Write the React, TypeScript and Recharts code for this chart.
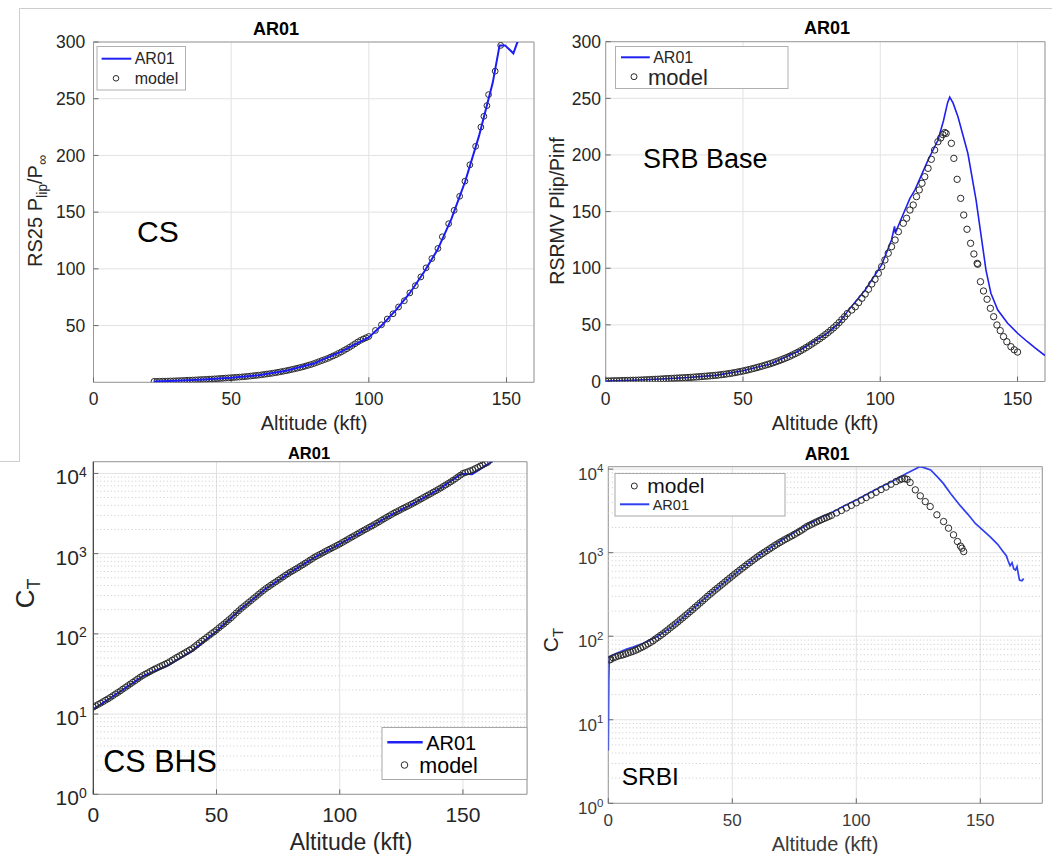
import {
  CartesianGrid,
  ReferenceArea,
  ReferenceLine,
  Scatter,
  ScatterChart,
  XAxis,
  YAxis,
} from "recharts";

const FONT = '"Liberation Sans", Arial, Helvetica, sans-serif';
const INK = "#262626";
const GRID = "#e2e2e2";
const BOX = "#9a9a9a";

// --- CS (RS25 lip pressure ratio) ---
const csModelAlt = [
  22, 23, 24, 25, 26, 27, 28, 29, 30, 31, 32, 33, 34, 35, 36, 37, 38, 39, 40, 41,
  42, 43, 44, 45, 46, 47, 48, 49, 50, 51, 52, 53, 54, 55, 56, 57, 58, 59, 60, 61,
  62, 63, 64, 65, 66, 67, 68, 69, 70, 71, 72, 73, 74, 75, 76, 77, 78, 79, 80, 81,
  82, 83, 84, 85, 86, 87, 88, 89, 90, 91, 92, 93, 94, 95, 96, 97, 98, 99, 100,
  102.4, 104.6, 106.7, 108.8, 110.8, 112.9, 114.9, 116.9, 118.9, 120.8, 122.9, 125.1, 126.7,
  129, 131, 133, 134.9, 136.7, 138.8, 140.7, 141.8, 142.9, 143.5, 145.9, 147.9,
];
const csModelVal = [
  0.8, 0.85, 0.9, 1.0, 1.05, 1.1, 1.2, 1.25, 1.35, 1.45, 1.55, 1.65, 1.8, 1.9, 2.0, 2.1, 2.25, 2.4, 2.5, 2.65,
  2.8, 2.9, 3.05, 3.2, 3.4, 3.55, 3.75, 3.9, 4.05, 4.25, 4.45, 4.6, 4.8, 5.0, 5.25, 5.5, 5.8, 6.05, 6.3, 6.6,
  6.95, 7.3, 7.65, 8.0, 8.4, 8.85, 9.3, 9.75, 10.2, 10.75, 11.3, 11.85, 12.4, 13.0, 13.6, 14.3, 15.0, 15.7, 16.5, 17.4,
  18.3, 19.2, 20.1, 21.0, 22.1, 23.2, 24.3, 25.5, 26.8, 28.1, 29.5, 30.9, 32.4, 34.0, 35.6, 37.0, 38.2, 39.3, 40.4,
  45.7, 50.7, 55.8, 60.4, 66.4, 71.9, 78.8, 85.2, 92.9, 100.9, 109.1, 118, 128.3,
  139.8, 151.6, 164, 177.3, 191.7, 208, 225, 234.5, 243.9, 253.6, 274.3, 297,
];
const csLineAlt = [22, 30, 40, 50, 60, 70, 80, 90, 95, 100, 105, 110, 115, 120, 125, 130, 135, 140, 145, 147.5, 149.5, 152.5, 154, 156];
const csLineVal = [0.8, 1.4, 2.5, 4.0, 6.3, 10.2, 16.5, 27, 33.5, 39.5, 51, 64, 79, 97, 117, 144, 177, 217, 264, 297, 297, 290, 300, 330];

// --- SRB Base (RSRMV lip pressure ratio) ---
const srbModelAlt = [
  0, 1, 2, 3, 4, 5, 6, 7, 8, 9, 10, 11, 12, 13, 14, 15, 16, 17, 18, 19,
  20, 21, 22, 23, 24, 25, 26, 27, 28, 29, 30, 31, 32, 33, 34, 35, 36, 37, 38, 39,
  40, 41, 42, 43, 44, 45, 46, 47, 48, 49, 50, 51, 52, 53, 54, 55, 56, 57, 58, 59,
  60, 61, 62, 63, 64, 65, 66, 67, 68, 69, 70, 71, 72, 73, 74, 75, 76, 77, 78, 79,
  80, 81, 82, 83, 84, 85, 86, 87, 88,
  89.6, 90.9, 92.1, 93.3, 94.5, 95.7, 96.9, 98.1, 99.3, 100.5, 101.7, 102.9, 104.1, 105.4, 106.6, 108.4,
  109.6, 110.8, 112, 113.2, 114.2, 115.2, 116.2, 117.4, 118.6, 119.8, 121, 122, 122.8, 123.5, 124, 125.9,
  126.8, 128, 129.3, 130.4, 131.6, 132.9, 134.1, 135.3, 135.5, 136.5, 137.6, 138.9, 140.1, 141.3, 142.5,
  143.7, 144.9, 146.1, 147.6, 148.8, 150,
];
const srbModelVal = [
  0.4, 0.45, 0.5, 0.6, 0.65, 0.7, 0.8, 0.85, 0.9, 1.0, 1.05, 1.1, 1.2, 1.3, 1.4, 1.5, 1.65, 1.75, 1.9, 2.0,
  2.15, 2.3, 2.45, 2.55, 2.7, 2.85, 3.0, 3.1, 3.25, 3.35, 3.5, 3.65, 3.85, 4.0, 4.2, 4.4, 4.6, 4.8, 5.0, 5.2,
  5.45, 5.7, 6.0, 6.3, 6.65, 7.0, 7.4, 7.85, 8.3, 8.75, 9.25, 9.8, 10.4, 11.0, 11.6, 12.3, 12.95, 13.6, 14.35, 15.05,
  15.8, 16.6, 17.45, 18.3, 19.25, 20.2, 21.2, 22.25, 23.4, 24.6, 25.8, 27.15, 28.5, 29.95, 31.45, 33.0, 34.6, 36.2, 37.9, 39.6,
  41.4, 43.3, 45.3, 47.4, 49.6, 52.0, 54.6, 57.2, 60.0,
  63.1, 66, 69.6, 73.5, 77.2, 81.4, 86.1, 90.2, 95.5, 101.4, 107.3, 113.2, 119, 124.9, 132.3, 139.7,
  144.1, 151.4, 155.8, 163.2, 169.1, 175, 180.8, 188.2, 196.2, 204.4, 211.7, 215, 218, 219.8, 219, 210.3,
  197, 178.5, 161.7, 147, 134.4, 122, 112.6, 104.3, 103.5, 88.1, 79.9, 72.6, 64.6, 57.2, 49.9,
  44.9, 39.6, 35.1, 30.7, 28, 26,
];
const srbLineAlt = [
  0, 10, 20, 30, 40, 50, 60, 70, 80, 85, 88.4, 94.5, 100.5, 104.1, 105.2, 105.5, 107, 110.8, 112.6, 117.4,
  121, 123, 124.5, 125.3, 126.5, 128.3, 131.9, 134.9, 137.3, 138.5, 140.3, 142.8, 146.4, 150, 153.6, 156.6, 159.7, 160.5,
];
const srbLineVal = [
  0.3, 1.1, 2.2, 3.5, 5.4, 9.5, 15.5, 26.5, 41.5, 51.5, 63, 80.8, 102.9, 124.9, 137, 131, 140, 161.7, 169, 195.5,
  213, 230, 246, 251, 246, 233.8, 201.5, 160.2, 119, 98.4, 77.9, 63.1, 51.4, 42.6, 35.1, 29.3, 23.4, 23,
];

// --- CS BHS (C_T, log) ---
const csbModelAlt = [
  0, 1, 2, 3, 4, 5, 6, 7, 8, 9, 10, 11, 12, 13, 14, 15, 16, 17, 18, 19,
  20, 21, 22, 23, 24, 25, 26, 27, 28, 29, 30, 31, 32, 33, 34, 35, 36, 37, 38, 39,
  40, 41, 42, 43, 44, 45, 46, 47, 48, 49, 50, 51, 52, 53, 54, 55, 56, 57, 58, 59,
  60, 61, 62, 63, 64, 65, 66, 67, 68, 69, 70, 71, 72, 73, 74, 75, 76, 77, 78, 79,
  80, 81, 82, 83, 84, 85, 86, 87, 88, 89, 90, 91, 92, 93, 94, 95, 96, 97, 98, 99,
  100, 101, 102, 103, 104, 105, 106, 107, 108, 109, 110, 111, 112, 113, 114, 115, 116, 117, 118, 119,
  120, 121, 122, 123, 124, 125, 126, 127, 128, 129, 130, 131, 132, 133, 134, 135, 136, 137, 138, 139,
  140, 141, 142, 143, 144, 145, 146, 147, 148, 149, 150, 151, 152, 153, 154, 155, 156, 157, 158, 159, 160,
];
const csbModelVal = [
  12.2, 12.7, 13.2, 13.7, 14.3, 14.9, 15.5, 16.2, 17.0, 17.8, 18.6, 19.5, 20.5, 21.5, 22.6, 23.7, 24.9, 26.1, 27.4, 28.8,
  30.2, 31.4, 32.6, 33.9, 35.2, 36.5, 37.8, 39.1, 40.4, 41.8, 43.2, 45.0, 47.0, 49.1, 51.2, 53.3, 55.5, 57.8, 60.2, 62.7,
  65.3, 69.0, 72.8, 77.0, 81.5, 85.8, 90.3, 95.5, 101, 106, 112, 119, 126, 133, 141, 150, 159, 170, 182, 194,
  207, 219, 232, 246, 260, 276, 292, 310, 328, 347, 367, 385, 404, 424, 444, 466, 489, 513, 538, 563,
  589, 613, 638, 666, 696, 727, 760, 795, 832, 871, 912, 945, 980, 1019, 1060, 1099, 1140, 1182, 1226, 1271,
  1318, 1372, 1428, 1488, 1550, 1614, 1680, 1749, 1820, 1894, 1972, 2050, 2130, 2213, 2300, 2398, 2500, 2608, 2720, 2833,
  2951, 3073, 3200, 3318, 3440, 3568, 3700, 3833, 3970, 4115, 4266, 4440, 4620, 4806, 5000, 5197, 5400, 5620, 5850, 6076,
  6310, 6590, 6880, 7183, 7500, 7843, 8200, 8615, 9050, 9513, 10000, 10250, 10500, 10800, 11100, 11500, 11900, 12350, 12800, 13250, 13700,
];
const csbLineAlt = [0, 10, 20, 30, 40, 50, 60, 70, 80, 90, 100, 110, 120, 130, 140, 149.5, 153.7, 162.1];
const csbLineVal = [11.5, 18.3, 29.5, 40, 61, 108, 205, 365, 585, 905, 1310, 1960, 2930, 4240, 6280, 9900, 9800, 14200];

// --- SRBI (C_T, log) ---
const srbiModelAlt = [
  0.5, 1, 2, 3, 4, 5, 6, 7, 8, 9, 10, 11, 12, 13, 14, 15, 16, 17, 18, 19,
  20, 21, 22, 23, 24, 25, 26, 27, 28, 29, 30, 31, 32, 33, 34, 35, 36, 37, 38, 39,
  40, 41, 42, 43, 44, 45, 46, 47, 48, 49, 50, 51, 52, 53, 54, 55, 56, 57, 58, 59,
  60, 61, 62, 63, 64, 65, 66, 67, 68, 69, 70, 71, 72, 73, 74, 75, 76, 77, 78, 79,
  80, 81, 82, 83, 84, 85, 86, 87, 88, 89, 90,
  92, 94, 96, 98, 100, 102, 104, 106, 108, 110, 112, 114, 116,
  117.5, 118.5, 119.5, 120.5, 121.7, 123.8, 125.8, 127.8, 129.8, 132.5, 135.2, 137.2, 139.2, 140.8, 142, 142.6, 143.3,
];
const srbiModelVal = [
  52, 53, 55, 56.5, 58, 59, 60, 61.5, 63, 64.5, 66, 68, 70, 72.5, 75, 78, 81, 84.5, 88, 92.5,
  97, 102, 107, 113, 119, 126, 133, 140, 148, 157, 166, 176, 186, 197, 209, 222, 235, 250, 265, 282,
  300, 318, 336, 356, 376, 398, 420, 445, 470, 497, 525, 555, 585, 617, 650, 685, 722, 760, 800, 842,
  885, 927, 970, 1015, 1060, 1110, 1160, 1212, 1265, 1317, 1370, 1425, 1480, 1535, 1590, 1655, 1720, 1790, 1865, 1955,
  2050, 2120, 2190, 2265, 2340, 2415, 2490, 2565, 2640, 2720, 2800,
  2990, 3200, 3430, 3680, 3950, 4250, 4570, 4900, 5280, 5700, 6100, 6600, 7100,
  7450, 7650, 7700, 7550, 6920, 5650, 4790, 4090, 3565, 2840, 2360, 1965, 1635, 1360, 1200, 1132, 1031,
];
const srbiLineAlt = [
  0, 0.2, 0.4, 3.4, 7.4, 10, 14.1, 20, 25, 30, 35, 40, 45, 50, 55, 60, 65, 70, 75, 80,
  85, 87, 88, 90, 95, 100, 105, 110, 115, 120, 123, 125.5, 127, 130, 133, 135, 138, 142, 145, 148,
  151, 154, 157, 159, 160.5, 161.2, 162, 162.8, 163.5, 164.2, 164.8, 165.3, 165.8, 166.8, 167.5,
];
const srbiLineVal = [
  4.3, 30, 57, 62.5, 70, 74, 82.5, 100, 126, 166, 224, 302, 398, 525, 692, 891, 1122, 1420, 1750, 2140,
  2570, 2800, 2780, 3000, 3630, 4266, 5130, 6166, 7244, 8810, 9770, 10700, 10500, 9770, 7900, 6800, 5100, 3630, 2880, 2240,
  1860, 1550, 1260, 1050, 920, 800, 700, 760, 640, 620, 680, 560, 470, 460, 490,
];

// tick values
const altTicks = [0, 50, 100, 150];
const csTicks = [50, 100, 150, 200, 250, 300];
const srbTicks = [0, 50, 100, 150, 200, 250, 300];
const decadeTicks = [1, 10, 100, 1000, 10000];
const minorGrid = [
  2, 3, 4, 5, 6, 7, 8, 9, 20, 30, 40, 50, 60, 70, 80, 90,
  200, 300, 400, 500, 600, 700, 800, 900, 2000, 3000, 4000, 5000, 6000, 7000, 8000, 9000,
];

type Pt = { x: number; y: number };
const pts = (xs: number[], ys: number[]): Pt[] => xs.map((x, i) => ({ x, y: ys[i] }));

const ring = (r: number) => (p: any) => (
  <circle cx={p.cx} cy={p.cy} r={r} fill="none" stroke="#2a2a2a" strokeWidth={1} />
);
const noMark = () => <g />;

// 10^n labels for the log axes
const powTick = (fs: number, sup: number, shift: number, raise: number, ink: string) => (p: any) => {
  const e = Math.round(Math.log10(p.payload.value));
  return (
    <text x={p.x} y={p.y + shift} textAnchor="end" fill={ink} fontSize={fs} fontFamily={FONT}>
      10
      <tspan dy={-raise} fontSize={sup}>
        {e}
      </tspan>
    </text>
  );
};

interface PanelProps {
  left: number;
  top: number;
  width: number;
  height: number;
  margin: { top: number; right: number; bottom: number; left: number };
  yWidth: number;
  xHeight: number;
  xMax: number;
  yDomain: [number, number];
  yTicks: number[];
  log?: boolean;
  model: Pt[];
  line: Pt[];
  lineColor: string;
  lineWidth: number;
  r: number;
  fontSize: number;
  xTickMargin: number;
  yTickMargin: number;
  yTick?: any;
  lineOnTop?: boolean;
  yAxisColor?: string;
  ink?: string;
}

function Panel(p: PanelProps) {
  const ink = p.ink ?? INK;
  const modelSeries = <Scatter key="m" data={p.model} shape={ring(p.r)} isAnimationActive={false} />;
  const lineSeries = (
    <Scatter
      key="l"
      data={p.line}
      line={{ stroke: p.lineColor, strokeWidth: p.lineWidth }}
      shape={noMark}
      isAnimationActive={false}
    />
  );
  return (
    <div style={{ position: "absolute", left: p.left, top: p.top }}>
      <ScatterChart width={p.width} height={p.height} margin={p.margin}>
        <CartesianGrid stroke={GRID} />
        {p.log &&
          minorGrid.map((v) => (
            <ReferenceLine key={v} y={v} stroke="#c9c9c9" strokeDasharray="1 2.5" />
          ))}
        <XAxis
          type="number"
          dataKey="x"
          domain={[0, p.xMax]}
          ticks={altTicks}
          interval={0}
          allowDataOverflow
          height={p.xHeight}
          tickSize={-5}
          tickMargin={p.xTickMargin}
          tickLine={{ stroke: "#6a6a6a" }}
          axisLine={false}
          tick={{ fill: ink, fontSize: p.fontSize, fontFamily: FONT }}
        />
        <YAxis
          type="number"
          dataKey="y"
          scale={p.log ? "log" : "linear"}
          domain={p.yDomain}
          ticks={p.yTicks}
          interval={0}
          allowDataOverflow
          width={p.yWidth}
          tickSize={-5}
          tickMargin={p.yTickMargin}
          tickLine={{ stroke: "#6a6a6a" }}
          axisLine={p.yAxisColor ? { stroke: p.yAxisColor } : false}
          tick={p.yTick ?? { fill: ink, fontSize: p.fontSize, fontFamily: FONT }}
        />
        <ReferenceArea
          x1={0}
          x2={p.xMax}
          y1={p.yDomain[0]}
          y2={p.yDomain[1]}
          fill="none"
          stroke={BOX}
          strokeWidth={1}
        />
        {p.lineOnTop ? [modelSeries, lineSeries] : [lineSeries, modelSeries]}
      </ScatterChart>
    </div>
  );
}

function Overlay() {
  const t = { fontFamily: FONT, fill: INK };
  return (
    <svg
      width={1052}
      height={854}
      style={{ position: "absolute", left: 0, top: 0, pointerEvents: "none" }}
    >
      {/* frame left by the screenshot */}
      <path d="M19.5 8.5 H1052 M19.5 8.5 V461.5 M0 461.5 H19.5" stroke="#cdcdcd" fill="none" />

      {/* titles */}
      <text {...t} fill="#000" x={276} y={35} textAnchor="middle" fontSize={18} fontWeight="bold">AR01</text>
      <text {...t} fill="#000" x={827} y={33.5} textAnchor="middle" fontSize={18} fontWeight="bold">AR01</text>
      <text {...t} fill="#000" x={309} y={459.3} textAnchor="middle" fontSize={16.5} fontWeight="bold">AR01</text>
      <text {...t} fill="#000" x={827} y={460} textAnchor="middle" fontSize={17.5} fontWeight="bold">AR01</text>

      {/* x labels */}
      <text {...t} x={314} y={430} textAnchor="middle" fontSize={20}>Altitude (kft)</text>
      <text {...t} x={825} y={430} textAnchor="middle" fontSize={20}>Altitude (kft)</text>
      <text {...t} x={351} y={850} textAnchor="middle" fontSize={23}>Altitude (kft)</text>
      <text {...t} fill="#3a3a3a" x={825} y={851} textAnchor="middle" fontSize={20}>Altitude (kft)</text>

      {/* y labels */}
      <text {...t} x={42} y={211} transform="rotate(-90 42 211)" textAnchor="middle" fontSize={20}>
        RS25 P<tspan dy={5} fontSize={14}>lip</tspan>
        <tspan dy={-5}>/P</tspan>
        <tspan dy={5} fontSize={14}>∞</tspan>
      </text>
      <text {...t} x={563.5} y={211} transform="rotate(-90 563.5 211)" textAnchor="middle" fontSize={19.5}>
        RSRMV Plip/Pinf
      </text>
      <text {...t} x={34.5} y={593.4} transform="rotate(-90 34.5 593.4)" textAnchor="middle" fontSize={26}>
        C<tspan dy={6} fontSize={18}>T</tspan>
      </text>
      <text {...t} x={558} y={640} transform="rotate(-90 558 640)" textAnchor="middle" fontSize={21}>
        C<tspan dy={5} fontSize={15}>T</tspan>
      </text>

      {/* in-plot labels */}
      <text {...t} fill="#000" x={137} y={241.7} fontSize={30}>CS</text>
      <text {...t} fill="#000" x={643} y={168.3} fontSize={27}>SRB Base</text>
      <text {...t} fill="#000" x={103.3} y={771.7} fontSize={30.5}>CS BHS</text>
      <text {...t} fill="#000" x={621.7} y={785} fontSize={24.5}>SRBI</text>

      {/* legend CS */}
      <rect x={97} y={46.5} width={88.5} height={43.5} fill="#fff" stroke="#b0b0b0" />
      <line x1={101.6} x2={131.3} y1={58.7} y2={58.7} stroke="#2020f0" strokeWidth={2} />
      <text {...t} x={134.7} y={64.4} fontSize={16}>AR01</text>
      <circle cx={116} cy={78.3} r={2.8} fill="none" stroke="#2a2a2a" />
      <text {...t} x={134.7} y={84} fontSize={16}>model</text>

      {/* legend SRB Base */}
      <rect x={615.5} y={46.5} width={172.5} height={42} fill="#fff" stroke="#b0b0b0" />
      <line x1={621} x2={649.8} y1={57.3} y2={57.3} stroke="#2020f0" strokeWidth={2} />
      <text {...t} x={653.2} y={63} fontSize={16}>AR01</text>
      <circle cx={634} cy={76.7} r={3} fill="none" stroke="#2a2a2a" />
      <text {...t} x={648} y={84.6} fontSize={22}>model</text>

      {/* legend CS BHS */}
      <rect x={382} y={727.5} width={145} height={52} fill="#fff" stroke="#a8a8a8" />
      <line x1={387.3} x2={422.7} y1={742.3} y2={742.3} stroke="#2020f0" strokeWidth={2.5} />
      <text {...t} fill="#000" x={426.2} y={749.5} fontSize={20}>AR01</text>
      <circle cx={404.5} cy={765} r={3.3} fill="none" stroke="#2a2a2a" />
      <text {...t} fill="#000" x={419.3} y={772.7} fontSize={21.5}>model</text>

      {/* legend SRBI */}
      <rect x={615} y={473.5} width={170} height={42.5} fill="#fff" stroke="#a8a8a8" />
      <circle cx={634.3} cy={486} r={3} fill="none" stroke="#2a2a2a" />
      <text {...t} fill="#111" x={647.3} y={493.3} fontSize={21}>model</text>
      <line x1={620} x2={649.3} y1={504.3} y2={504.3} stroke="#3040f0" strokeWidth={2} />
      <text {...t} x={652.7} y={510.3} fontSize={14.5}>AR01</text>
    </svg>
  );
}

export default function App() {
  return (
    <div
      style={{
        position: "absolute",
        left: 0,
        top: 0,
        width: 1052,
        height: 854,
        background: "#fff",
        overflow: "hidden",
        fontFamily: FONT,
      }}
    >
      <Panel
        left={20}
        top={10}
        width={520}
        height={430}
        margin={{ top: 32, right: 6, bottom: 0, left: 0 }}
        yWidth={73.5}
        xHeight={57.7}
        xMax={160}
        yDomain={[0, 300]}
        yTicks={csTicks}
        model={pts(csModelAlt, csModelVal)}
        line={pts(csLineAlt, csLineVal)}
        lineColor="#1c1cf5"
        lineWidth={2}
        r={2.9}
        fontSize={17.5}
        xTickMargin={15.6}
        yTickMargin={13.3}
        lineOnTop
      />
      <Panel
        left={540}
        top={10}
        width={512}
        height={430}
        margin={{ top: 31.7, right: 7, bottom: 0, left: 0 }}
        yWidth={65.7}
        xHeight={58.5}
        xMax={160}
        yDomain={[0, 300]}
        yTicks={srbTicks}
        model={pts(srbModelAlt, srbModelVal)}
        line={pts(srbLineAlt, srbLineVal)}
        lineColor="#2020f0"
        lineWidth={1.6}
        r={3.2}
        fontSize={17.5}
        xTickMargin={15.6}
        yTickMargin={9.8}
      />
      <Panel
        left={0}
        top={445}
        width={535}
        height={409}
        margin={{ top: 16.7, right: 8, bottom: 0, left: 0 }}
        yWidth={93.3}
        xHeight={59.7}
        xMax={176}
        yDomain={[1, 14000]}
        yTicks={decadeTicks}
        log
        model={pts(csbModelAlt, csbModelVal)}
        line={pts(csbLineAlt, csbLineVal)}
        lineColor="#1c1cf5"
        lineWidth={2}
        r={3}
        fontSize={21}
        xTickMargin={17.6}
        yTickMargin={11.6}
        yTick={powTick(21, 14, 10.9, 7.5, INK)}
        yAxisColor="#333"
      />
      <Panel
        left={540}
        top={445}
        width={512}
        height={409}
        margin={{ top: 21.7, right: 9.7, bottom: 0, left: 0 }}
        yWidth={68.3}
        xHeight={50.7}
        xMax={175}
        yDomain={[1, 10700]}
        yTicks={decadeTicks}
        log
        model={pts(srbiModelAlt, srbiModelVal)}
        line={pts(srbiLineAlt, srbiLineVal)}
        lineColor="#3040f0"
        lineWidth={1.7}
        r={3.2}
        fontSize={17}
        xTickMargin={15.9}
        yTickMargin={10}
        yTick={powTick(17, 11.5, 11, 7.7, "#3a3a3a")}
        ink="#3a3a3a"
      />
      <Overlay />
    </div>
  );
}
